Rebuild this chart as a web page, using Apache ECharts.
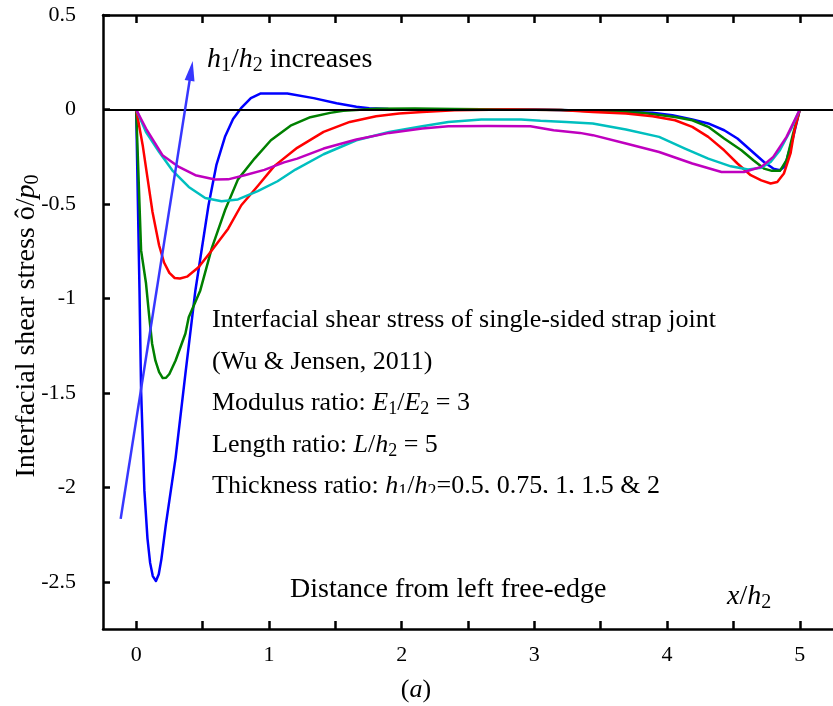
<!DOCTYPE html>
<html><head><meta charset="utf-8">
<script src="https://cdn.jsdelivr.net/npm/echarts@6/dist/echarts.min.js"></script>
<style>html,body{margin:0;padding:0;background:#fff}#c{width:833px;height:706px}</style>
</head><body><div id="c"></div>
<script>
// ---- axis ticks ----
const xTickValues = [0, 0.5, 1, 1.5, 2, 2.5, 3, 3.5, 4, 4.5, 5];
const xLabelValues = [0, 1, 2, 3, 4, 5];
const yTickValues = [-2.5, -2, -1.5, -1, -0.5, 0, 0.5];

// ---- series (h1/h2 = 0.5, 0.75, 1, 1.5, 2) ----
const seriesNames = ['h1/h2 = 0.5', 'h1/h2 = 0.75', 'h1/h2 = 1', 'h1/h2 = 1.5', 'h1/h2 = 2'];

const xBlue = [0, 0.025, 0.037, 0.062, 0.085, 0.105, 0.125, 0.149, 0.17, 0.19, 0.223, 0.297, 0.371, 0.446, 0.545, 0.604, 0.669, 0.73, 0.79, 0.864, 0.939, 1.139, 1.337, 1.51, 1.659, 1.756, 1.9, 2.2, 2.6, 3.0, 3.44, 3.89, 4.04, 4.19, 4.31, 4.43, 4.53, 4.63, 4.73, 4.80, 4.85, 4.88, 4.90, 4.95, 5.0];
const yBlue = [0, -0.958, -1.488, -2.019, -2.27, -2.4, -2.47, -2.496, -2.46, -2.38, -2.2, -1.844, -1.398, -0.958, -0.507, -0.295, -0.145, -0.05, 0.007, 0.06, 0.085, 0.085, 0.06, 0.033, 0.014, 0.007, 0.003, 0.001, 0, 0, -0.007, -0.018, -0.03, -0.053, -0.074, -0.11, -0.154, -0.216, -0.278, -0.313, -0.322, -0.305, -0.269, -0.145, 0];

const xGreen = [0, 0.037, 0.074, 0.099, 0.12, 0.145, 0.173, 0.2, 0.225, 0.25, 0.297, 0.371, 0.396, 0.483, 0.569, 0.669, 0.767, 0.892, 1.015, 1.163, 1.312, 1.461, 1.56, 1.81, 2.1, 2.4, 2.8, 3.2, 3.44, 3.81, 4.06, 4.19, 4.31, 4.43, 4.56, 4.65, 4.73, 4.79, 4.85, 4.90, 4.95, 5.0];
const yGreen = [0, -0.746, -0.92, -1.1, -1.24, -1.33, -1.39, -1.422, -1.42, -1.4, -1.329, -1.186, -1.1, -0.958, -0.735, -0.534, -0.37, -0.26, -0.163, -0.086, -0.041, -0.018, -0.007, 0.004, 0.005, 0.003, 0, -0.003, -0.01, -0.018, -0.04, -0.057, -0.092, -0.154, -0.216, -0.269, -0.313, -0.325, -0.325, -0.269, -0.126, 0];

const xRed = [0, 0.049, 0.086, 0.123, 0.173, 0.21, 0.25, 0.29, 0.33, 0.383, 0.47, 0.569, 0.693, 0.792, 0.916, 1.04, 1.213, 1.412, 1.609, 1.808, 1.981, 2.155, 2.4, 2.8, 3.2, 3.44, 3.69, 3.89, 4.06, 4.19, 4.31, 4.43, 4.53, 4.63, 4.71, 4.78, 4.83, 4.88, 4.93, 4.96, 5.0];
const yRed = [0, -0.189, -0.366, -0.543, -0.72, -0.81, -0.865, -0.892, -0.895, -0.885, -0.835, -0.746, -0.631, -0.507, -0.405, -0.3, -0.203, -0.119, -0.066, -0.036, -0.021, -0.013, -0.004, 0, -0.003, -0.013, -0.021, -0.036, -0.057, -0.092, -0.145, -0.216, -0.286, -0.348, -0.375, -0.392, -0.384, -0.339, -0.233, -0.11, 0];

const xCyan = [0, 0.074, 0.173, 0.272, 0.396, 0.52, 0.643, 0.767, 0.916, 1.065, 1.2, 1.412, 1.659, 1.906, 2.155, 2.352, 2.6, 2.9, 3.046, 3.24, 3.44, 3.69, 3.94, 4.135, 4.31, 4.48, 4.61, 4.71, 4.78, 4.85, 4.93, 5.0];
const yCyan = [0, -0.119, -0.225, -0.322, -0.41, -0.469, -0.486, -0.476, -0.432, -0.38, -0.318, -0.237, -0.163, -0.119, -0.089, -0.066, -0.053, -0.053, -0.06, -0.066, -0.074, -0.106, -0.145, -0.207, -0.26, -0.301, -0.318, -0.308, -0.278, -0.216, -0.11, 0];

const xMagenta = [0, 0.074, 0.198, 0.322, 0.446, 0.594, 0.693, 0.817, 0.966, 1.114, 1.213, 1.412, 1.659, 1.906, 2.155, 2.352, 2.65, 2.97, 3.145, 3.343, 3.44, 3.69, 3.94, 4.19, 4.41, 4.58, 4.71, 4.80, 4.90, 5.0];
const yMagenta = [0, -0.101, -0.242, -0.304, -0.348, -0.371, -0.37, -0.348, -0.32, -0.28, -0.26, -0.207, -0.159, -0.124, -0.101, -0.089, -0.087, -0.089, -0.11, -0.124, -0.136, -0.18, -0.225, -0.286, -0.331, -0.331, -0.304, -0.251, -0.145, 0];

// arrow annotation (data coordinates)
const arrowStart = [-0.117, -2.167];
const arrowEnd = [0.414, 0.204];

const FF = '"Liberation Serif","Times New Roman",serif';
const zip = (xs, ys) => xs.map((x, i) => [x, ys[i]]);

const seriesDefs = [
  { x: xBlue, y: yBlue, color: '#0000ff' },
  { x: xGreen, y: yGreen, color: '#008000' },
  { x: xRed, y: yRed, color: '#ff0000' },
  { x: xCyan, y: yCyan, color: '#00bfbf' },
  { x: xMagenta, y: yMagenta, color: '#bf00bf' }
];

const chart = echarts.init(document.getElementById('c'), null, { renderer: 'canvas' });

function mkRich(fs) {
  return {
    i: { fontStyle: 'italic', fontFamily: FF, fontSize: fs, lineHeight: fs + 4, color: '#000' },
    s: { fontFamily: FF, fontSize: Math.round(fs * 0.7), lineHeight: fs + 4, verticalAlign: 'bottom', color: '#000' }
  };
}
function txt(x, y, text, fs, opts) {
  fs = fs || 26;
  return Object.assign({
    type: 'text', x: x, y: y, z: 100,
    style: Object.assign({ text: text, fontFamily: FF, fontSize: fs, lineHeight: fs + 4, fill: '#000',
      align: 'left', verticalAlign: 'middle', rich: mkRich(fs) }, (opts && opts.style) || {})
  }, (opts && opts.el) || {});
}

const series = seriesDefs.map((d, i) => ({
  name: seriesNames[i], type: 'line', data: zip(d.x, d.y),
  showSymbol: false, smooth: false,
  lineStyle: { color: d.color, width: 2.5, join: 'round' }, itemStyle: { color: d.color },
  z: 3
}));
series.push({
  type: 'line', data: [], silent: true,
  markLine: {
    silent: true, animation: false, symbol: 'none', label: { show: false },
    lineStyle: { color: '#000', width: 2, type: 'solid' },
    data: [{ yAxis: 0 }]
  }, z: 2
});
series.push({
  type: 'line', data: [], silent: true,
  markLine: {
    silent: true, animation: false, symbol: ['none', 'triangle'], symbolSize: [10, 20],
    label: { show: false },
    lineStyle: { color: '#3737ff', width: 2.5, type: 'solid' },
    data: [[{ coord: arrowStart }, { coord: arrowEnd }]]
  }, z: 4
});

const axisCommon = {
  type: 'value',
  axisLine: { show: true, onZero: false, lineStyle: { color: '#000', width: 2.5 } },
  splitLine: { show: false }
};

chart.setOption({
  animation: false,
  backgroundColor: '#fff',
  grid: { left: 103, top: 15, width: 740.4, height: 614, containLabel: false },
  xAxis: [
    Object.assign({}, axisCommon, {
      min: -0.25, max: 5.25, position: 'bottom',
      axisTick: { show: true, inside: true, length: 8, customValues: xTickValues, lineStyle: { color: '#000', width: 2.5 } },
      axisLabel: { show: true, customValues: xLabelValues, margin: 15, fontFamily: FF, fontSize: 22, color: '#000',
        formatter: v => String(v) }
    }),
    Object.assign({}, axisCommon, {
      min: -0.25, max: 5.25, position: 'top',
      axisTick: { show: true, inside: true, length: 8, customValues: xTickValues, lineStyle: { color: '#000', width: 2.5 } },
      axisLabel: { show: false }
    })
  ],
  yAxis: Object.assign({}, axisCommon, {
    min: -2.75, max: 0.5,
    axisTick: { show: true, inside: true, length: 7, customValues: yTickValues, lineStyle: { color: '#000', width: 2.5 } },
    axisLabel: { show: true, customValues: yTickValues, margin: 27, fontFamily: FF, fontSize: 22, color: '#000',
      formatter: v => String(v) }
  }),
  series: series,
  graphic: [
    txt(27, 326, 'Interfacial shear stress ô/{i|p}{s|0}', 28, { el: { rotation: Math.PI / 2 }, style: { align: 'center' } }),
    txt(207, 60, '{i|h}{s|1}/{i|h}{s|2} increases', 28),
    txt(212, 320, 'Interfacial shear stress of single-sided strap joint', 26),
    txt(212, 362, '(Wu & Jensen, 2011)', 26),
    txt(212, 403, 'Modulus ratio: {i|E}{s|1}/{i|E}{s|2} = 3', 26),
    txt(212, 445, 'Length ratio: {i|L}/{i|h}{s|2} = 5', 26),
    txt(212, 486, 'Thickness ratio: {i|h}{s|1}/{i|h}{s|2}=0.5, 0.75, 1, 1.5 & 2', 26),
    { type: 'rect', z: 101, shape: { x: 205, y: 493, width: 520, height: 14 }, style: { fill: '#fff' } },
    txt(290, 590, 'Distance from left free-edge', 28),
    txt(727, 597, '{i|x}/{i|h}{s|2}', 28),
    txt(416, 690, '({i|a})', 26, { style: { align: 'center' } })
  ]
});
</script>
</body></html>
